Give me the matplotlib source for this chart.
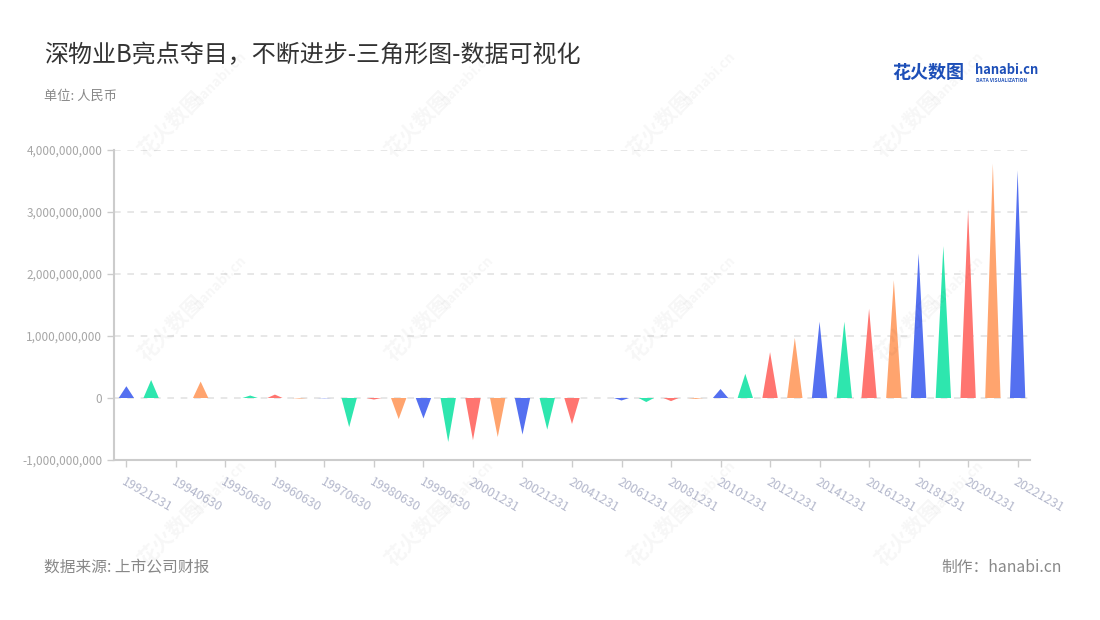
import matplotlib
matplotlib.use("Agg")
import matplotlib.pyplot as plt
from matplotlib.ticker import FuncFormatter

plt.rcParams['font.family'] = ['Noto Sans CJK SC', 'DejaVu Sans']

# Report dates (every other one labelled on the axis)
dates = ['19921231', '19931231', '19940630', '19941231', '19950630', '19951231',
         '19960630', '19961231', '19970630', '19971231', '19980630', '19981231',
         '19990630', '19991231', '20001231', '20011231', '20021231', '20031231',
         '20041231', '20051231', '20061231', '20071231', '20081231', '20091231',
         '20101231', '20111231', '20121231', '20131231', '20141231', '20151231',
         '20161231', '20171231', '20181231', '20191231', '20201231', '20211231',
         '20221231']

# Values in RMB
values = [0.19e9, 0.29e9, 0.0, 0.265e9, 0.0, 0.04e9,
          0.055e9, -0.01e9, -0.005e9, -0.47e9, -0.025e9, -0.34e9,
          -0.33e9, -0.71e9, -0.68e9, -0.63e9, -0.59e9, -0.51e9,
          -0.42e9, 0.0, -0.04e9, -0.065e9, -0.05e9, -0.015e9,
          0.145e9, 0.39e9, 0.74e9, 0.97e9, 1.23e9, 1.23e9,
          1.44e9, 1.90e9, 2.33e9, 2.45e9, 3.04e9, 3.78e9,
          3.67e9]

palette = ['#5470F0', '#2EE6AE', '#FF7570', '#FFA46E']

fig = plt.figure(figsize=(11, 6.2), dpi=100)
ax = fig.add_axes([114 / 1100, 1 - 460 / 620, (1030 - 114) / 1100, (460 - 150) / 620])

# triangles, one per report date
half = 0.31
for i, v in enumerate(values):
    if v == 0:
        continue
    ax.fill([i - half, i + half, i], [0, 0, v], color=palette[i % 4],
            linewidth=0, zorder=3)

ax.set_xlim(-0.5, len(dates) - 0.5)
ax.set_ylim(-1e9, 4e9)
ax.set_yticks([-1e9, 0, 1e9, 2e9, 3e9, 4e9])
ax.yaxis.set_major_formatter(FuncFormatter(lambda v, p: f'{int(v):,}'))
ax.set_xticks(range(0, len(dates), 2))
ax.set_xticklabels(dates[::2], rotation=-30, ha='left', rotation_mode='anchor')

ax.grid(axis='y', linestyle=(0, (4, 4)), color='#e3e3e3', linewidth=1.2, zorder=0)
for s in ['top', 'right']:
    ax.spines[s].set_visible(False)
for s in ['left', 'bottom']:
    ax.spines[s].set_color('#cccccc')
    ax.spines[s].set_linewidth(1.5)
ax.tick_params(axis='y', colors='#cccccc', labelcolor='#a6a6a6', labelsize=8.5,
               length=5, width=1)
ax.tick_params(axis='x', colors='#cccccc', labelcolor='#b4b8cc', labelsize=9,
               length=5, width=1, pad=6)

# watermarks
for wx in [0.155, 0.38, 0.6, 0.825]:
    for wy in [0.8, 0.47, 0.14]:
        fig.text(wx, wy, '花火数图', fontsize=15, fontweight='bold', color='#000000',
                 alpha=0.035, rotation=45, ha='center', va='center')
        fig.text(wx + 0.045, wy + 0.075, 'hanabi.cn', fontsize=10, fontweight='bold',
                 color='#000000', alpha=0.035, rotation=45, ha='center', va='center')

fig.text(44 / 1100, 1 - 55 / 620, '深物业B亮点夺目，不断进步-三角形图-数据可视化',
         fontsize=17.3, color='#333333', va='center')
fig.text(44 / 1100, 1 - 96 / 620, '单位: 人民币', fontsize=9.5, color='#888888', va='center')
fig.text(44 / 1100, 1 - 567 / 620, '数据来源: 上市公司财报', fontsize=11.3, color='#888888', va='center')
fig.text(1062 / 1100, 1 - 567 / 620, '制作：hanabi.cn', fontsize=11.3, color='#888888',
         va='center', ha='right')

# logo
fig.text(892 / 1100, 1 - 73 / 620, '花火数图', fontsize=13, fontweight='bold',
         color='#1d4fb8', va='center')
fig.text(975 / 1100, 1 - 70 / 620, 'hanabi.cn', fontsize=9.3, fontweight='bold',
         color='#1d4fb8', va='center')
fig.text(976 / 1100, 1 - 80 / 620, 'DATA VISUALIZATION', fontsize=3.5, fontweight='bold',
         color='#1d4fb8', va='center')

fig.savefig('out.png', dpi=100)
